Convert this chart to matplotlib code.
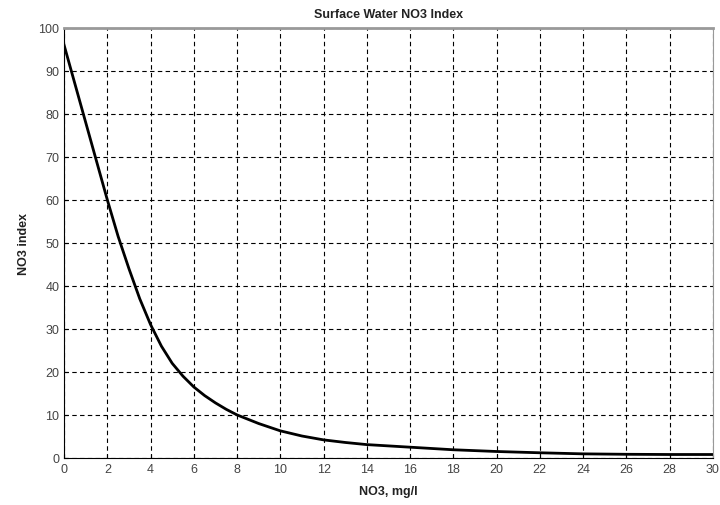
import matplotlib
matplotlib.use('Agg')
from matplotlib import pyplot as plt

# values
no3 = [0, 0.5, 1, 1.5, 2, 2.5, 3, 3.5, 4, 4.5, 5, 5.5, 6, 6.5, 7, 7.5, 8, 9, 10,
       11, 12, 13, 14, 15, 16, 17, 18, 20, 22, 24, 26, 28, 30]
index = [96, 87, 78, 69, 60, 51.5, 44, 37, 31, 26, 22, 19, 16.5, 14.5, 12.8, 11.3, 10,
         8, 6.3, 5.1, 4.2, 3.6, 3.1, 2.8, 2.5, 2.2, 1.9, 1.5, 1.2, 0.95, 0.85, 0.8, 0.8]
xticks = list(range(0, 31, 2))
yticks = list(range(0, 101, 10))

plt.rcParams['font.family'] = ['Liberation Sans', 'DejaVu Sans']

fig = plt.figure(figsize=(7.2, 5.06), dpi=100)
ax = fig.add_axes([0.089, 0.093, 0.901, 0.85])
ax.plot(no3, index, color='black', linewidth=2)
ax.set_xlim(0, 30)
ax.set_ylim(0, 100)
ax.set_xticks(xticks)
ax.set_yticks(yticks)
ax.grid(True, color='black', linestyle=(0, (4, 3)), linewidth=0.8)
ax.tick_params(labelsize=9, labelcolor='#444444', length=3, direction='in')
for s in ['top', 'right']:
    ax.spines[s].set_color('#999999')
ax.spines['top'].set_linewidth(2)
ax.set_xlabel('NO3, mg/l', fontsize=9, fontweight='bold', color='#222222', labelpad=7)
ax.set_ylabel('NO3 index', fontsize=9, fontweight='bold', color='#222222', labelpad=6)
ax.set_title('Surface Water NO3 Index', fontsize=9, fontweight='bold', color='#222222', pad=8)

fig.savefig('out.png', dpi=100)
